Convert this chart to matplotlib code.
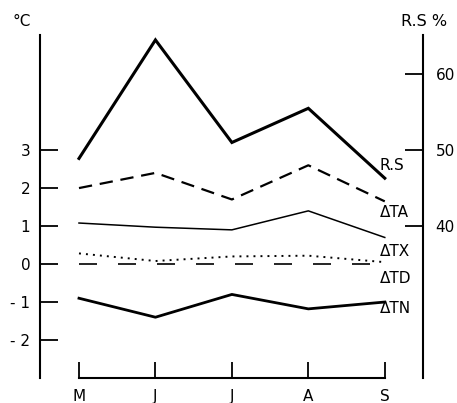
"""
Temperature anomalies and relative sunshine, May-September.
Left axis: degC, right axis: R.S %.
"""

import matplotlib
matplotlib.use("Agg")
import matplotlib.pyplot as plt

months = ['M', 'J', 'J', 'A', 'S']
rs = [48.9, 64.5, 51.0, 55.5, 46.3]          # relative sunshine, %
d_ta = [2.0, 2.4, 1.7, 2.6, 1.65]            # dashed
d_tx = [1.08, 0.97, 0.9, 1.4, 0.7]           # thin solid
d_td = [0.28, 0.08, 0.2, 0.22, 0.05]         # dotted
d_tn = [-0.9, -1.4, -0.8, -1.18, -1.0]       # thick solid
zero = [0, 0, 0, 0, 0]

t_ticks = [-2, -1, 0, 1, 2, 3]
t_ticklabels = ['- 2', '- 1', '0', '1', '2', '3']
rs_ticks = [40, 50, 60]

series_labels = ['R.S', 'ΔTA', 'ΔTX', 'ΔTD', 'ΔTN']
label_y = [2.6, 1.37, 0.32, -0.39, -1.18]

W, H = 457, 403
fig = plt.figure(figsize=(W / 100, H / 100), dpi=100)
ax = fig.add_axes([40 / W, 1 - 378 / H, (423 - 40) / W, (378 - 35) / H])
x = list(range(len(months)))

ax.set_xlim(-0.51, 4.5)
ax.set_ylim(-3.0, 6.03)

# right axis: RS = 35 + 5*T
ax2 = ax.twinx()
ax2.set_ylim(35 + 5 * -3.0, 35 + 5 * 6.03)

ax2.plot(x, rs, color='black', lw=2.2, solid_joinstyle='miter')
ax.plot(x, d_ta, color='black', lw=1.6, dashes=(6, 3.5))
ax.plot(x, d_tx, color='black', lw=1.1)
ax.plot(x, d_td, color='black', lw=1.4, dashes=(1, 2.6))
ax.plot(x, zero, color='black', lw=1.2, dashes=(10.8, 12.6))
ax.plot(x, d_tn, color='black', lw=2.0)

for s, yy in zip(series_labels, label_y):
    ax.text(3.93, yy, s, fontsize=11, va='center', ha='left')

# spines / ticks
for a in (ax, ax2):
    a.spines['top'].set_visible(False)
    a.patch.set_visible(False)
ax.spines['right'].set_visible(False)
ax2.spines['left'].set_visible(False)
ax2.spines['bottom'].set_visible(False)
ax.spines['left'].set_linewidth(1.5)
ax2.spines['right'].set_linewidth(1.5)
ax.spines['bottom'].set_linewidth(1.5)
ax.spines['bottom'].set_bounds(0, 4)

ax.set_xticks(x)
ax.set_xticklabels(months)
ax.tick_params(axis='x', direction='in', length=11.5, width=1.3,
               pad=8, labelsize=11)
ax.set_yticks(t_ticks)
ax.set_yticklabels(t_ticklabels)
ax.tick_params(axis='y', direction='in', length=13, width=1.3,
               pad=7, labelsize=11)
ax2.set_yticks(rs_ticks)
ax2.tick_params(axis='y', direction='in', length=13, width=1.3,
                pad=9, labelsize=11)

fig.text(12 / W, 1 - 22 / H, '°C', fontsize=11, va='center', ha='left')
fig.text(401 / W, 1 - 21 / H, 'R.S %', fontsize=11.5, va='center', ha='left')

fig.savefig('out.png', dpi=100)
